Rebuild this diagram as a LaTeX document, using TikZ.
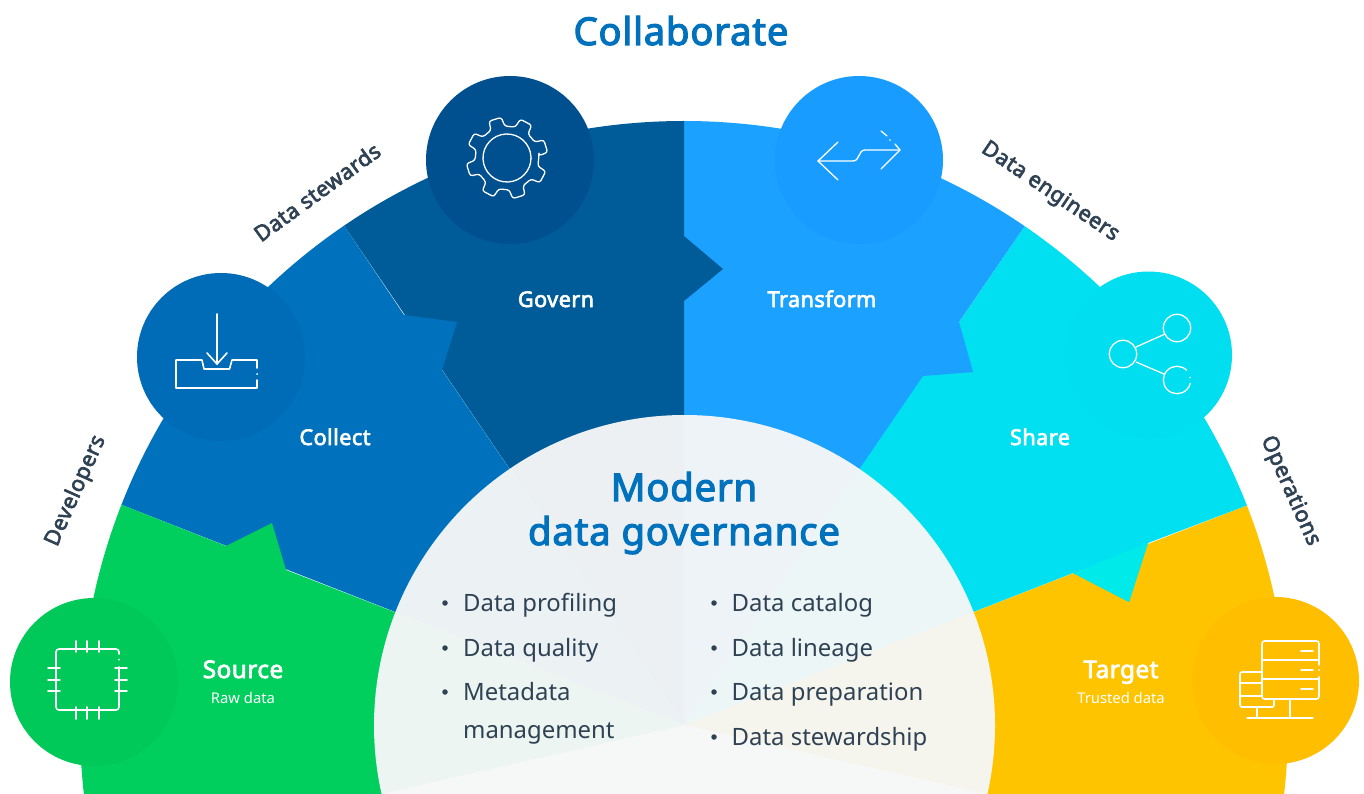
\documentclass[tikz,border=0pt]{standalone}
\usepackage{fontspec}
\setmainfont{Noto Sans}[BoldFont={Noto Sans},BoldFeatures={FakeBold=3,LetterSpace=2}]
\definecolor{ink}{HTML}{2F4254}
\definecolor{brandblue}{HTML}{0071BC}
\definecolor{srcw}{HTML}{00CF5E}\definecolor{srcc}{HTML}{00C95A}
\definecolor{colw}{HTML}{0071BC}\definecolor{colc}{HTML}{006BB6}
\definecolor{govw}{HTML}{005C99}\definecolor{govc}{HTML}{004F8E}
\definecolor{traw}{HTML}{1BA1FF}\definecolor{trac}{HTML}{189CFF}
\definecolor{shaw}{HTML}{00E0F0}\definecolor{shac}{HTML}{00DEEF}\definecolor{shab}{HTML}{00EAEA}
\definecolor{tarw}{HTML}{FFC400}\definecolor{tarc}{HTML}{FFBE00}
\definecolor{veil}{HTML}{F6F7F7}
\tikzset{
  icon/.style={draw=white,line width=1.6pt,line cap=round,line join=round},
  thinicon/.style={draw=white,line width=1.3pt,line cap=round,line join=round},
  wedgetitle/.style={text=white,font=\fontsize{21.7}{25}\selectfont\bfseries,inner sep=0pt,anchor=base},
  endtitle/.style={text=white,font=\fontsize{24.3}{28}\selectfont\bfseries,inner sep=0pt,anchor=base},
  subtitle/.style={text=white,font=\fontsize{14.8}{18}\selectfont,inner sep=0pt,anchor=base},
  bodytext/.style={text=ink,font=\fontsize{23.9}{30}\selectfont,anchor=base west,inner sep=0pt},
  roletext/.style={text=ink,font=\fontsize{21.7}{25}\selectfont\bfseries,inner sep=0pt},
  bulletdot/.style={circle,fill=ink,inner sep=0pt,minimum size=5.5pt},
  headtext/.style={text=brandblue,font=\fontsize{38.3}{42}\selectfont\bfseries,inner sep=0pt,anchor=base},
}
\begin{document}
\begin{tikzpicture}[x=1pt,y=-1pt]
\useasboundingbox (0,0) rectangle (1364,794);
\coordinate (c) at (684,725);
\begin{scope}
  \clip (0,0) rectangle (1364,794);
  \begin{scope}
    \clip (c) circle[radius=604];
    % wedges: order lets every bump lie over its neighbour
    \fill[tarw] (c) -- (1248,505) -- (1812,285) -- (1812,900) -- (1146,830) -- cycle;
    \fill[shaw] (c) -- (1024,227) -- (1364,-271) -- (1812,285) -- (1248,505) -- (1148,543) -- (1129,602) -- (1073,573) -- cycle;
    \fill[shab] (1148,543) -- (1129,602) -- (1073,573) -- cycle;
    \fill[traw] (c) -- (684,-100) -- (1364,-271) -- (1024,227) -- (959,322) -- (973,372) -- (923,376) -- cycle;
    \fill[govw] (c) -- (345,227) -- (6,-271) -- (684,-100) -- (684,236) -- (723,269) -- (684,301) -- cycle;
    \fill[colw] (c) -- (122,505) -- (-440,285) -- (6,-271) -- (345,227) -- (404,315) -- (457,322) -- (442,370) -- cycle;
    \fill[srcw] (c) -- (397,613) -- (286,570) -- (272,523) -- (226,546) -- (122,505) -- (-440,285) -- (-440,900) -- (222,830) -- cycle;
  \end{scope}
  \fill[fill=veil,fill opacity=.96] (684.5,725.5) circle[radius=310.5];
\end{scope}

% icon discs
\node[circle,fill=srcc,minimum size=168pt,inner sep=0pt] (dsrc) at (94,682) {};
\node[circle,fill=colc,minimum size=168pt,inner sep=0pt] (dcol) at (221,357) {};
\node[circle,fill=govc,minimum size=168pt,inner sep=0pt] (dgov) at (510,160) {};
\node[circle,fill=trac,minimum size=168pt,inner sep=0pt] (dtra) at (859,160) {};
\node[circle,fill=shac,minimum size=167pt,inner sep=0pt] (dsha) at (1148.5,355) {};
\node[circle,fill=tarc,minimum size=167pt,inner sep=0pt] (dtar) at (1275.5,680.5) {};

% chip
\draw[icon,rounded corners=3pt] (119,654) -- (119,649) -- (56,649) -- (56,710) -- (119,710) -- (119,667);
\fill[white] (119,659.5) circle[radius=1pt];
\foreach \p in {76,87,99}{\draw[icon] (\p,641) -- (\p,652); \draw[icon] (\p,707) -- (\p,719);}
\foreach \p in {668,680,691}{\draw[icon] (48,\p) -- (60,\p); \draw[icon] (115,\p) -- (127,\p);}

% collect
\draw[icon] (217,314) -- (217,364);
\draw[icon] (207,353) -- (217,364) -- (227,353);
\draw[icon] (257,368) -- (257,360) -- (232,360) -- (229.5,369) -- (204,369) -- (202,360) -- (176,360) -- (176,388) -- (257,388) -- (257,380);
\fill[white] (257,374) circle[radius=1pt];

% gear
\begin{scope}[shift={(507,158)}]
  \draw[thinicon,rounded corners=2.5pt] (-4:32)
    \foreach \a in {-17,-62,-107,-152,-197,-242,-287,-332}{
      -- ({\a+13}:32) -- ({\a+9}:41) -- ({\a-9}:41) -- ({\a-13}:32)
    } -- cycle;
  \draw[thinicon] (-3:24) arc[start angle=-3,end angle=-360,radius=24];
  \fill[white] (24,0) circle[radius=.8pt];
\end{scope}

% transform arrows
\draw[thinicon] (838,142) -- (818,161) -- (838,180);
\draw[thinicon] (818,161) -- (853,161) .. controls (860,161) and (858,150) .. (865,150) -- (900,150);
\draw[thinicon] (881,131) -- (887,136);
\fill[white] (890,140) circle[radius=.8pt];
\draw[thinicon] (895,144) -- (900,150) -- (881,169);

% share
\draw[thinicon] (1123,354) circle[radius=13.7];
\draw[thinicon] (1177,328) circle[radius=13.7];
\draw[thinicon] (1186.7,370.3) arc[start angle=-45,end angle=-346,radius=13.7];
\fill[white] (1190,377.5) circle[radius=.8pt];
\draw[thinicon] (1136,347) -- (1165,334);
\draw[thinicon] (1136,362) -- (1164,374);

% target
\draw[icon,rounded corners=2.5pt] (1319,665) -- (1319,641) -- (1262,641) -- (1262,699) -- (1319,699) -- (1319,677);
\fill[white] (1319,670) circle[radius=1pt];
\draw[icon] (1262,660) -- (1319,660);
\draw[icon] (1262,679) -- (1319,679);
\foreach \p in {651,670,689}{\draw[icon] (1301,\p) -- (1313,\p);}
\draw[icon,rounded corners=2pt] (1261,672) -- (1240,672) -- (1240,707) -- (1274,707) -- (1274,699);
\draw[icon] (1240,683) -- (1261,683);
\draw[icon] (1240,696) -- (1261,696);
\draw[icon] (1257,707) -- (1257,718);
\draw[icon] (1290,699) -- (1290,718);
\draw[icon] (1247,718) -- (1313,718);

% wedge titles
\node[wedgetitle] (tgov) at (556,307) {Govern};
\node[wedgetitle] (ttra) at (822,307) {Transform};
\node[wedgetitle] (tcol) at (335,445) {Collect};
\node[wedgetitle] (tsha) at (1040,445) {Share};
\node[endtitle] (tsrc) at (243,678) {Source};
\node[subtitle] (ssrc) at (243,703) {Raw data};
\node[endtitle] (ttar) at (1121,678) {Target};
\node[subtitle] (star) at (1121,703) {Trusted data};

% roles
\node[roletext,rotate=66] (rdev) at (76,491) {Developers};
\node[roletext,rotate=36] (rste) at (317,192) {Data stewards};
\node[roletext,rotate=-34] (reng) at (1050,192) {Data engineers};
\node[roletext,rotate=-66] (rope) at (1290,491) {Operations};

% headings
\node[headtext] (hcol) at (681,45) {Collaborate};
\node[headtext] (hmod) at (684,501) {Modern};
\node[headtext] (hdat) at (684,545) {data governance};

% bullet lists
\foreach \nm/\x/\y/\t in {l1/463/611/Data profiling,l2/463/656/Data quality,l3/463/700/Metadata,l5/731.5/611/Data catalog,l6/731.5/656/Data lineage,l7/731.5/700/Data preparation,l8/731.5/745/Data stewardship}{
  \node[bodytext] (\nm) at (\x,\y) {\t};
}
\node[bodytext] (l4) at (463,738) {management};
\foreach \nm/\x/\y in {b1/445/603,b2/445/648,b3/445/692,b5/714/603,b6/714/648,b7/714/692,b8/714/737}{
  \node[bulletdot] (\nm) at (\x,\y) {};
}
\end{tikzpicture}
\end{document}
